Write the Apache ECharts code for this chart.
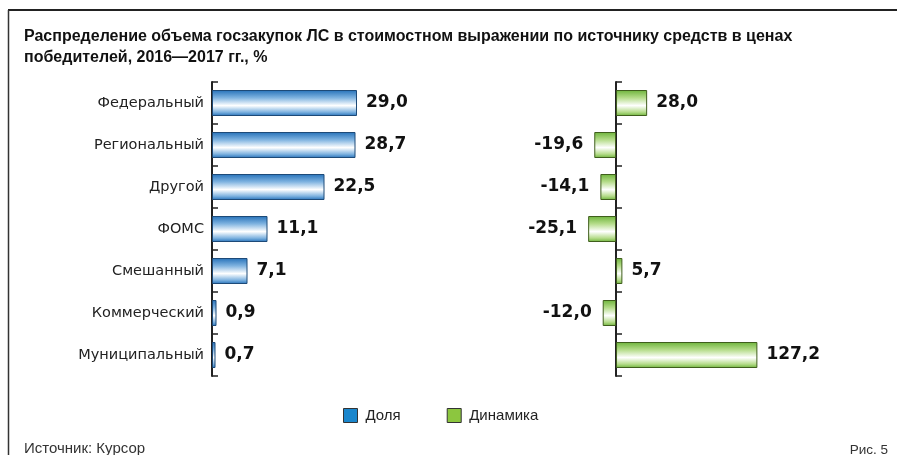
<!DOCTYPE html>
<html><head><meta charset="utf-8">
<script src="https://cdn.jsdelivr.net/npm/echarts@6/dist/echarts.min.js"></script>
<style>html,body{margin:0;padding:0;background:#fff}#c{width:897px;height:455px}</style>
</head><body><div id="c"></div>
<script>
const categories = ['Федеральный','Региональный','Другой','ФОМС','Смешанный','Коммерческий','Муниципальный'];
const shareValues = [29.0, 28.7, 22.5, 11.1, 7.1, 0.9, 0.7];
const dynamicsValues = [28.0, -19.6, -14.1, -25.1, 5.7, -12.0, 127.2];
const seriesNames = ['Доля','Динамика'];
const titleText = 'Распределение объема госзакупок ЛС в стоимостном выражении по источнику средств в ценах\nпобедителей, 2016—2017 гг., %';
const sourceText = 'Источник: Курсор';
const figText = 'Рис. 5';

const fmt = v => v.toFixed(1).replace('.', ',');
const grad = (edge, mid) => new echarts.graphic.LinearGradient(0,0,0,1,[
  {offset:0,color:edge},{offset:0.3,color:mid},{offset:0.6,color:'#ffffff'},{offset:0.85,color:mid},{offset:1,color:edge}]);
const FONT = '"Liberation Sans", Arial, sans-serif';
const WFONT = '"DejaVu Sans", sans-serif';
const chart = echarts.init(document.getElementById('c'));
const catAxis = (idx, showLabels) => ({
  type:'category', gridIndex:idx, data:categories, inverse:true,
  axisLine:{show:true, lineStyle:{color:'#222', width:2}},
  axisTick:{show:true, inside:true, length:6, lineStyle:{color:'#222', width:1.5}},
  axisLabel:{show:showLabels, color:'#222', fontSize:14.5, fontFamily:WFONT, margin:8}
});
const valLabel = {show:true, position:'right', distance:9, formatter:p=>fmt(p.value), fontSize:17, fontWeight:'bold', color:'#111', fontFamily:WFONT};
chart.setOption({
  animation:false,
  title:{text:titleText, left:19, top:21, textStyle:{fontSize:16, fontWeight:'bold', color:'#111', fontFamily:FONT, lineHeight:21}},
  graphic:[
    {type:'line', shape:{x1:8,y1:10,x2:897,y2:10}, style:{stroke:'#222', lineWidth:2}},
    {type:'line', shape:{x1:8.5,y1:10,x2:8.5,y2:455}, style:{stroke:'#333', lineWidth:1.5}},
    {type:'text', left:24, top:441, style:{text:sourceText, fontSize:15, fill:'#333', fontFamily:FONT}},
    {type:'text', right:9, top:443, style:{text:figText, fontSize:13.5, fill:'#333', fontFamily:FONT}}
  ],
  legend:{
    left:338, top:403, itemWidth:14, itemHeight:14, itemGap:46, icon:'rect',
    textStyle:{fontSize:15, color:'#222', fontFamily:FONT, padding:[0,0,0,3]},
    data:[
      {name:seriesNames[0], itemStyle:{color:'#1a86cc', borderColor:'#333', borderWidth:1}},
      {name:seriesNames[1], itemStyle:{color:'#8cc63f', borderColor:'#333', borderWidth:1}}
    ]
  },
  grid:[
    {left:212, top:82, width:200, height:294},
    {left:571.6, top:82, width:200, height:294}
  ],
  xAxis:[
    {type:'value', gridIndex:0, min:0, max:40, show:false},
    {type:'value', gridIndex:1, min:-40, max:140, show:false}
  ],
  yAxis:[catAxis(0,true), catAxis(1,false)],
  series:[
    {name:seriesNames[0], type:'bar', xAxisIndex:0, yAxisIndex:0, data:shareValues, barWidth:26, z:1,
     itemStyle:{color:grad('#2470b8','#7fb3e0'), borderColor:'#1d4a78', borderWidth:1},
     label:valLabel},
    {name:seriesNames[1], type:'bar', xAxisIndex:1, yAxisIndex:1, barWidth:26, z:1,
     data:dynamicsValues.map(v=>({value:v, label:{position: v<0?'left':'right', distance: v<0?11:9}})),
     itemStyle:{color:grad('#6cb33a','#b5dc8a'), borderColor:'#3f5e1c', borderWidth:1},
     label:valLabel}
  ]
});
</script></body></html>
